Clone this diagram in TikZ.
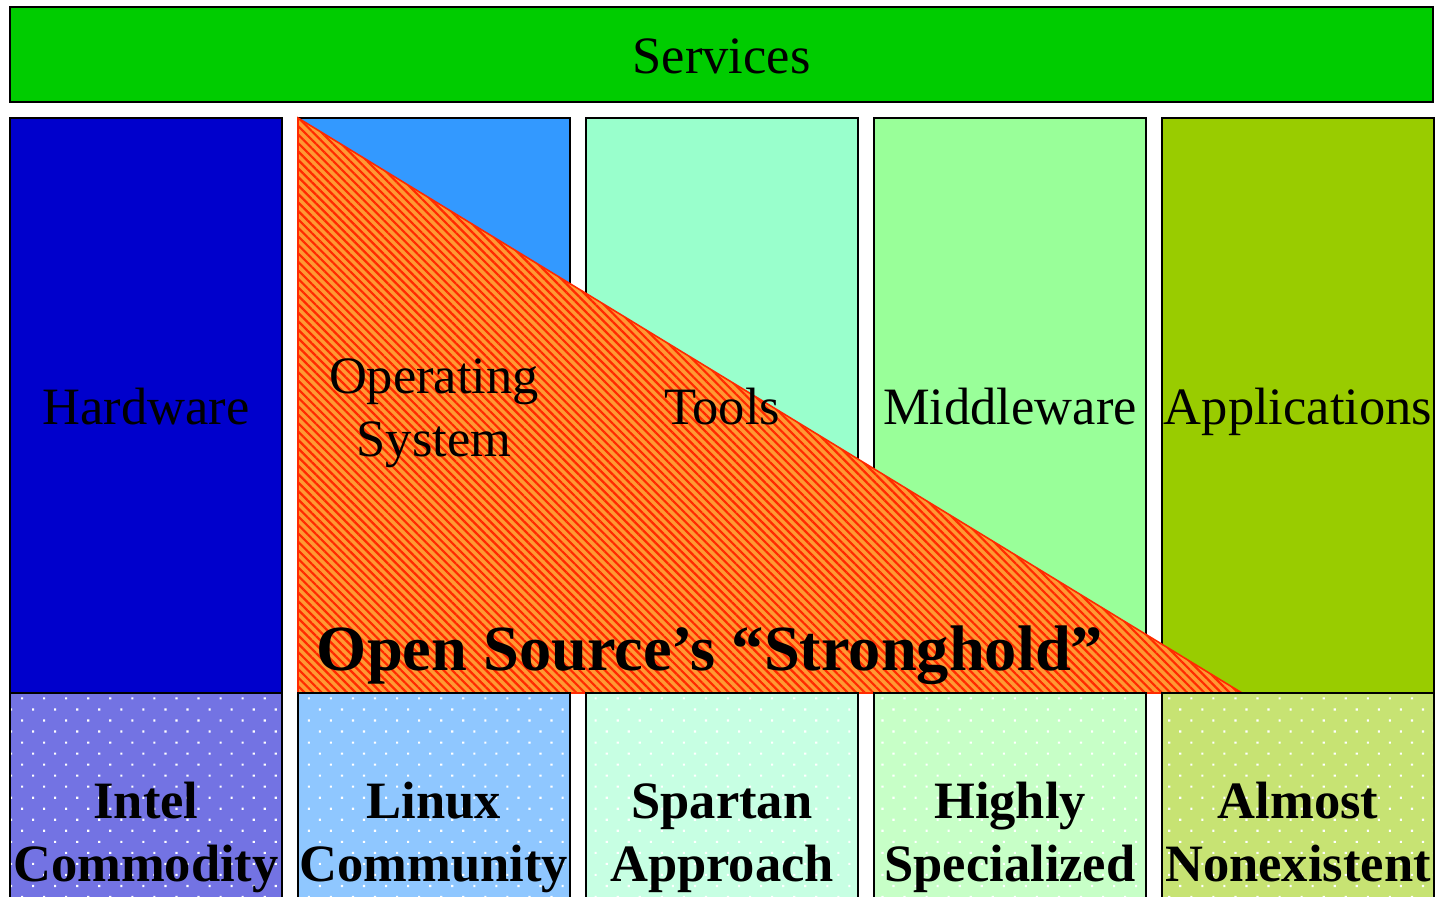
\documentclass[tikz,border=0pt]{standalone}
\usepackage{fontspec}
\setmainfont{Liberation Serif}
\usepackage{xcolor}
\usepackage{tikz}
\usetikzlibrary{positioning, patterns.meta}
\definecolor{svcGreen}{HTML}{00CC00}
\definecolor{hwBlue}{HTML}{0000CC}
\definecolor{osBlue}{HTML}{3399FF}
\definecolor{toolsMint}{HTML}{99FFCC}
\definecolor{mwGreen}{HTML}{99FF99}
\definecolor{appsOlive}{HTML}{99CC00}
\definecolor{srcOrange}{HTML}{FF9933}
\definecolor{srcRed}{HTML}{FF2a00}
\tikzset{
    services/.style={rectangle, draw=black, line width=1pt, fill=svcGreen, minimum width=711.5pt, minimum height=47.5pt, inner sep=0pt, text height=24pt, text depth=4.5pt, font=\fontsize{26.25}{31.5}\selectfont},
    layer/.style={rectangle, draw=black, line width=1pt, fill=#1, minimum width=136pt, minimum height=287.5pt, inner sep=0pt, outer sep=0pt},
    status/.style={rectangle, draw=black, line width=1pt, preaction={fill=#1!55!white}, pattern={Dots[angle=45, distance=7.8pt, radius=0.75pt]}, pattern color=white, minimum width=136pt, minimum height=144pt, inner sep=0pt, outer sep=0pt, align=center, font=\fontsize{26.25}{31.5}\selectfont\bfseries},
    layerText/.style={align=center, inner sep=0pt, yshift=-3.3pt, font=\fontsize{26.25}{31.5}\selectfont},
    stronghold/.style={draw=srcRed, line width=0.8pt, preaction={fill=srcOrange}, pattern={Lines[angle=-45, distance=3pt, line width=1.1pt]}, pattern color=srcRed},
    strongText/.style={anchor=base, inner sep=0pt, font=\fontsize{32.2}{38}\selectfont\bfseries}
}
\begin{document}
\begin{tikzpicture}[x=0.5pt, y=-0.5pt]
        \clip (0,0) rectangle (1439,897);
        % Services
        \node[services] (Services) at (721.5,54.5) {Services};

        % Layers
        \node[layer=hwBlue] (Hardware) at (146,405.5) {};
        \node[layer=osBlue, right=8pt of Hardware] (OS) {};
        \node[layer=toolsMint, right=8pt of OS] (Tools) {};
        \node[layer=mwGreen, right=8pt of Tools] (Middleware) {};
        \node[layer=appsOlive, right=8pt of Middleware] (Apps) {};

        % Stronghold
        \coordinate (Tip) at (1242,693);
        \draw[stronghold] (OS.north west) -- (OS.south west) -- (Tip) -- cycle;

        % Status
        \node[status=hwBlue, below=0pt of Hardware] (HardwareStatus) {Intel\strut\\Commodity\strut};
        \node[status=osBlue, below=0pt of OS] (OSStatus) {Linux\strut\\Community\strut};
        \node[status=toolsMint, below=0pt of Tools] (ToolsStatus) {Spartan\strut\\Approach\strut};
        \node[status=mwGreen, below=0pt of Middleware] (MiddlewareStatus) {Highly\strut\\Specialized\strut};
        \node[status=appsOlive, below=0pt of Apps] (AppsStatus) {Almost\strut\\Nonexistent\strut};

        % Labels
        \node[layerText] at (Hardware) {Hardware\strut};
        \node[layerText] at (OS) {Operating\strut\\System\strut};
        \node[layerText] at (Tools) {Tools\strut};
        \node[layerText] at (Middleware) {Middleware\strut};
        \node[layerText] at (Apps) {Applications\strut};
        \node[strongText] (Label) at (710,670) {Open Source’s “Stronghold”};
    \end{tikzpicture}
\end{document}
